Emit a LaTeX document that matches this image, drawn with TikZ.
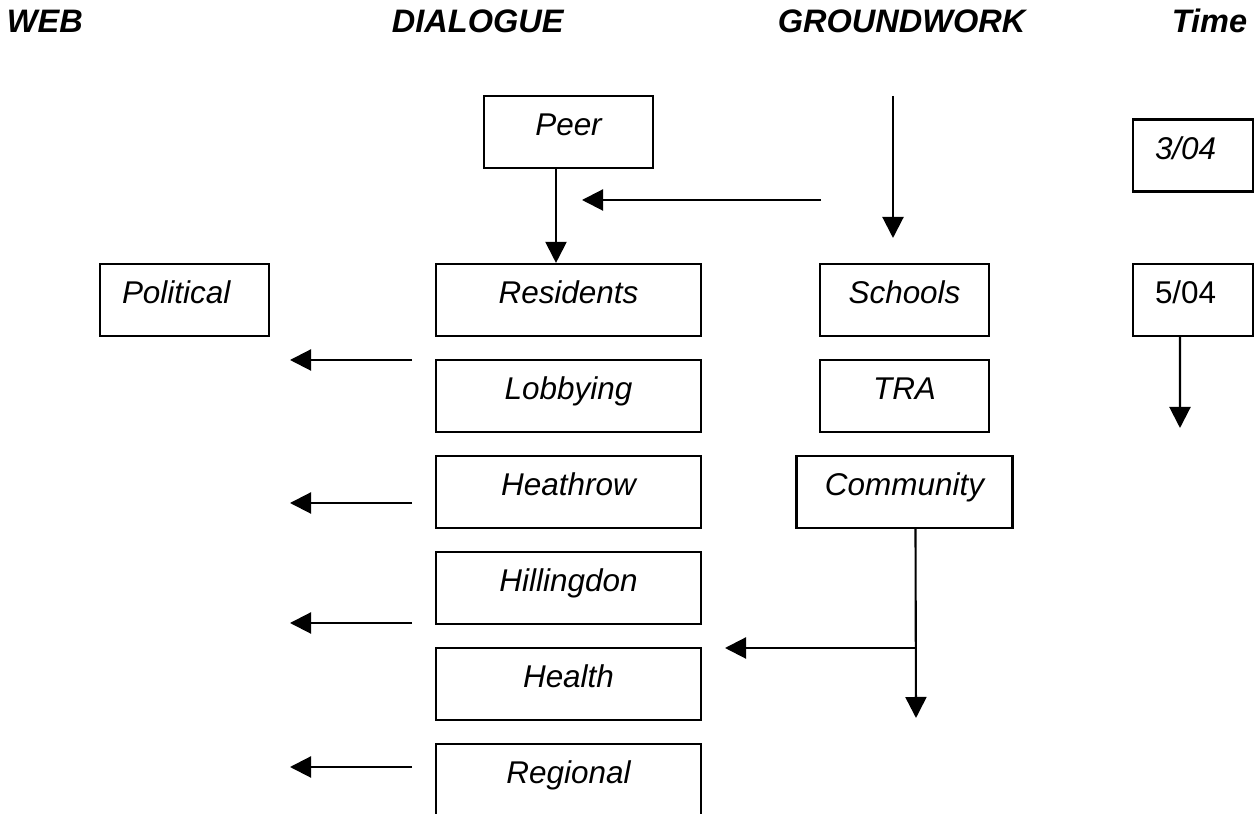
\documentclass[tikz,border=0pt]{standalone}
\usepackage{fontspec}
\setmainfont{Liberation Sans}
\usetikzlibrary{shapes,arrows,positioning,fit,arrows.meta}

\begin{document}
\begin{tikzpicture}[node distance=1.92cm, line width=1.2pt, >={Triangle[length=0.42cm, width=0.42cm]}, every node/.style={font=\fontsize{17.9}{21}\selectfont\itshape}]
    \tikzstyle{box} = [rectangle, draw, inner sep=0pt, text height=0.8cm, text depth=0.64cm, text centered]
    \tikzstyle{column} = [box, minimum width=5.3cm]
    \tikzstyle{side} = [box, inner xsep=0.44cm, align=left]
    \tikzstyle{heading} = [anchor=base west, font=\fontsize{18.5}{22}\selectfont\bfseries\itshape]
    \useasboundingbox (0,0) rectangle (25.1,16.28);

    \node (web) [heading] at (0,15.62) {WEB};
    \node (dialogue) [heading] at (7.7,15.62) {DIALOGUE};
    \node (groundwork) [heading] at (15.42,15.62) {GROUNDWORK};
    \node (time) [heading] at (23.3,15.62) {Time};

    \node (peer) [box, minimum width=3.38cm] at (11.37,13.64) {Peer};
    \node (residents) [column] at (11.37,10.28) {Residents};
    \node (lobbying) [column, below of=residents] {Lobbying};
    \node (heathrow) [column, below of=lobbying] {Heathrow};
    \node (hillingdon) [column, below of=heathrow] {Hillingdon};
    \node (health) [column, below of=hillingdon] {Health};
    \node (regional) [column, below of=health] {Regional};

    \node (political) [side, text width=2.5cm] at (3.69,10.28) {Political};

    \node (schools) [box, minimum width=3.38cm] at (18.09,10.28) {Schools};
    \node (tra) [box, minimum width=3.38cm, below of=schools] {TRA};
    \node (community) [box, minimum width=4.32cm, below of=tra] {Community};

    \node (date3) [side, text width=1.52cm] at (23.86,13.17) {3/04};
    \node (date5) [side, text width=1.52cm, font=\fontsize{17.9}{21}\selectfont] at (23.86,10.28) {5/04};

    \coordinate (gwtop) at (17.86,14.36);
    \coordinate (gwend) at (17.86,11.52);
    \coordinate (gwfeed) at (16.42,12.28);
    \coordinate (gwtip) at (11.64,12.28);
    \coordinate (timeend) at (23.6,7.72);
    \coordinate (out1) at (8.24,9.08);
    \coordinate (web1) at (5.8,9.08);
    \coordinate (out2) at (8.24,6.22);
    \coordinate (web2) at (5.8,6.22);
    \coordinate (out3) at (8.24,3.82);
    \coordinate (web3) at (5.8,3.82);
    \coordinate (out4) at (8.24,0.94);
    \coordinate (web4) at (5.8,0.94);
    \coordinate (branch) at (18.32,3.32);
    \coordinate (healthtip) at (14.5,3.32);
    \coordinate (commend) at (18.32,1.92);

    \draw [->] ([xshift=-0.25cm]peer.south) -- ([xshift=-0.25cm]residents.north);
    \draw [->] (gwfeed) -- (gwtip);
    \draw [->] (gwtop) -- (gwend);
    \draw [->] ([xshift=-0.26cm]date5.south) -- (timeend);
    \draw [->] (out1) -- (web1);
    \draw [->] (out2) -- (web2);
    \draw [->] (out3) -- (web3);
    \draw [->] (out4) -- (web4);
    \draw [->] ([xshift=0.22cm]community.south) -- (commend);
    \draw [->] (branch) -- (healthtip);

\end{tikzpicture}
\end{document}
